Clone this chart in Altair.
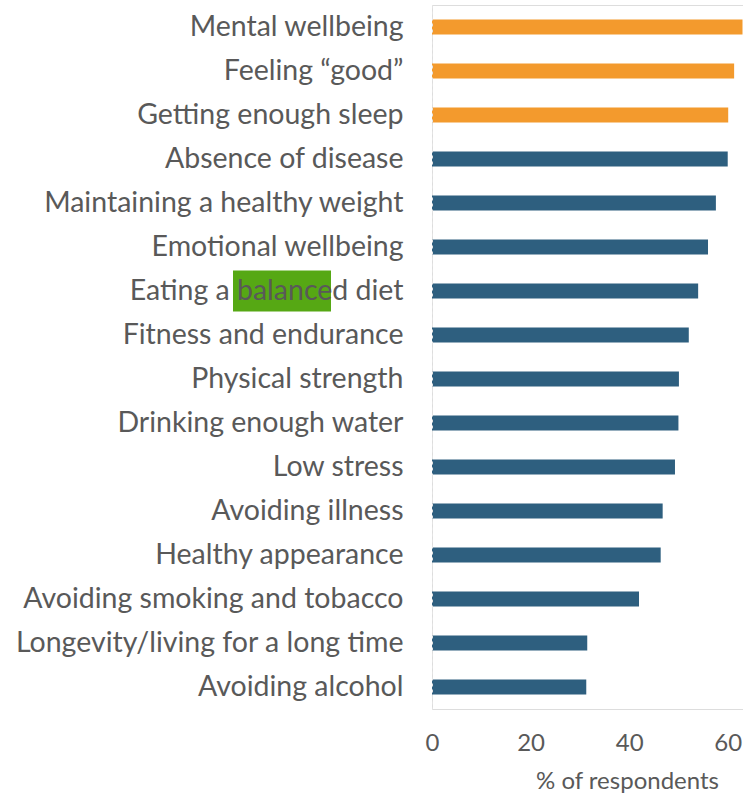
import altair as alt
import pandas as pd

categories = [
    "Mental wellbeing",
    "Feeling \u201cgood\u201d",
    "Getting enough sleep",
    "Absence of disease",
    "Maintaining a healthy weight",
    "Emotional wellbeing",
    "Eating a balanced diet",
    "Fitness and endurance",
    "Physical strength",
    "Drinking enough water",
    "Low stress",
    "Avoiding illness",
    "Healthy appearance",
    "Avoiding smoking and tobacco",
    "Longevity/living for a long time",
    "Avoiding alcohol",
]
values = [63.0, 61.3, 60.1, 60.0, 57.6, 56.0, 54.0, 52.1, 50.1, 50.0, 49.3, 46.8, 46.4, 42.0, 31.5, 31.3]
groups = ["top"] * 3 + ["other"] * 13
highlighted_item = ["Eating a balanced diet"]

df = pd.DataFrame({"item": categories, "pct": values, "group": groups})
hl = pd.DataFrame({"item": highlighted_item})

FONT = "Lato"

y_scale = alt.Scale(domain=categories, paddingInner=0.66, paddingOuter=0.33)

y_enc = alt.Y(
    "item:N",
    sort=categories,
    scale=y_scale,
    axis=alt.Axis(
        title=None,
        ticks=False,
        domain=True,
        domainColor="#e3e3e3",
        domainDash=[3, 3],
        domainWidth=1,
        labelFont=FONT,
        labelFontSize=28.5,
        labelColor="#595959",
        labelPadding=29,
        labelLimit=600,
        zindex=1,
    ),
)

bars = alt.Chart(df).mark_bar().encode(
    x=alt.X(
        "pct:Q",
        scale=alt.Scale(domain=[0, 63.1], nice=False),
        axis=alt.Axis(
            values=[0, 20, 40, 60],
            title="% of respondents",
            grid=False,
            ticks=False,
            domain=False,
            labelFlush=False,
            labelFont=FONT,
            labelFontSize=24,
            labelColor="#595959",
            labelPadding=22,
            titleFont=FONT,
            titleFontSize=24,
            titleFontWeight="normal",
            titleColor="#595959",
            titleX=195,
            titleY=79,
            titleAlign="center",
            titleBaseline="alphabetic",
        ),
    ),
    y=y_enc,
    color=alt.Color(
        "group:N",
        scale=alt.Scale(domain=["top", "other"], range=["#f39a2d", "#2e5f7f"]),
        legend=None,
    ),
)

highlight = alt.Chart(hl).mark_bar(size=41, color="#56a814").encode(
    y=alt.Y("item:N", sort=categories, scale=y_scale),
    x=alt.value(-199),
    x2=alt.value(-101),
)

chart = alt.layer(highlight, bars).properties(
    width=311,
    height=704,
    autosize=alt.AutoSizeParams(type="none"),
    padding={"left": 432, "top": 5, "right": 0, "bottom": 85},
).configure_view(stroke=None).configure(background="white")

chart.save("out.html", embed_options={"renderer": "svg", "actions": False})
